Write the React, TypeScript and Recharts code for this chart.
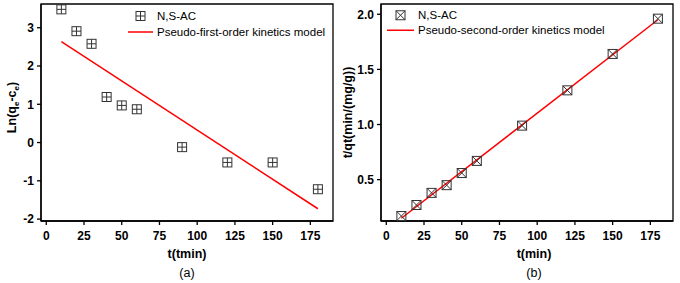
import React from 'react';
import { ComposedChart, Scatter, Line, XAxis, YAxis, ReferenceArea, Legend } from 'recharts';

// sampling times (min)
const TIMES = [10, 20, 30, 40, 50, 60, 90, 120, 150, 180];
// (a) ln(qe - qt) vs t
const LN_VALUES = [3.48, 2.91, 2.58, 1.19, 0.97, 0.87, -0.12, -0.52, -0.52, -1.22];
// (b) t/qt vs t
const TQT_VALUES = [0.17, 0.27, 0.38, 0.45, 0.56, 0.67, 0.99, 1.31, 1.64, 1.96];
// fitted lines, end points
const FIT_T = [10, 180];
const FIRST_FIT = [2.64, -1.73];
const SECOND_FIT = [0.15, 1.95];

const X_TICKS = [0, 25, 50, 75, 100, 125, 150, 175];
const FIRST_Y_TICKS = [-2, -1, 0, 1, 2, 3];
const SECOND_Y_TICKS = [0.5, 1.0, 1.5, 2.0];

const X_DOMAIN: [number, number] = [-3.5, 190];
const FIRST_Y_DOMAIN: [number, number] = [-2.05, 3.62];
const SECOND_Y_DOMAIN: [number, number] = [0.125, 2.093];

const FONT = '"Liberation Sans", Arial, sans-serif';
const MARK = '#333';

const points = (ys: number[]) => TIMES.map((t, i) => ({ t, y: ys[i] }));
const fit = (ys: number[]) => FIT_T.map((t, i) => ({ t, y: ys[i] }));

const PlusBox = ({ cx, cy }: any) => (
    <g stroke={MARK} strokeWidth={1} fill="none">
        <rect x={cx - 4.5} y={cy - 4.5} width={9} height={9} />
        <line x1={cx} y1={cy - 4.5} x2={cx} y2={cy + 4.5} />
        <line x1={cx - 4.5} y1={cy} x2={cx + 4.5} y2={cy} />
    </g>
);

const CrossBox = ({ cx, cy }: any) => (
    <g stroke={MARK} strokeWidth={1} fill="none">
        <rect x={cx - 4.5} y={cy - 4.5} width={9} height={9} />
        <line x1={cx - 4.5} y1={cy - 4.5} x2={cx + 4.5} y2={cy + 4.5} />
        <line x1={cx - 4.5} y1={cy + 4.5} x2={cx + 4.5} y2={cy - 4.5} />
    </g>
);

const legendContent = (Marker: any, lineLabel: string, lineX: number, lineW: number, rowH: number) => () => (
    <div style={{ fontFamily: FONT, fontSize: 11.5, color: '#000', lineHeight: `${rowH}px` }}>
        <div style={{ display: 'flex', alignItems: 'center' }}>
            <svg width={lineX + lineW + 4} height={rowH}>
                <Marker cx={lineX + lineW / 2} cy={rowH / 2} />
            </svg>
            <span>N,S-AC</span>
        </div>
        <div style={{ display: 'flex', alignItems: 'center' }}>
            <svg width={lineX + lineW + 4} height={rowH}>
                <line x1={lineX} y1={rowH / 2} x2={lineX + lineW} y2={rowH / 2} stroke="#ff0000" strokeWidth={1.5} />
            </svg>
            <span>{lineLabel}</span>
        </div>
    </div>
);

const xTitle = (title: string, sub: string, shift: number) => ({ viewBox }: any) => {
    const cx = viewBox.x + viewBox.width / 2 + shift;
    return (
        <g fontFamily={FONT} fill="#000">
            <text x={cx} y={viewBox.y + 37} textAnchor="middle" fontSize={12.5} fontWeight="bold">{title}</text>
            <text x={cx} y={viewBox.y + 56} textAnchor="middle" fontSize={12.5}>{sub}</text>
        </g>
    );
};

const FirstYTitle = ({ viewBox }: any) => {
    const x = 16;
    const y = viewBox.y + viewBox.height / 2 - 5;
    return (
        <text x={x} y={y} transform={`rotate(-90 ${x} ${y})`} textAnchor="middle" fontFamily={FONT}
            fontSize={12.5} fontWeight="bold" fill="#000">
            Ln(q<tspan fontSize={8} dy={3}>e</tspan><tspan dy={-3}>-c</tspan><tspan fontSize={8} dy={3}>e</tspan><tspan dy={-3}>)</tspan>
        </text>
    );
};

const SecondYTitle = ({ viewBox }: any) => {
    const x = 12;
    const y = viewBox.y + viewBox.height / 2;
    return (
        <text x={x} y={y} transform={`rotate(-90 ${x} ${y})`} textAnchor="middle" fontFamily={FONT}
            fontSize={12.5} fontWeight="bold" fill="#000">
            t/qt(min/(mg/g))
        </text>
    );
};

const tickStyle = { fontSize: 12, fontWeight: 'bold' as const, fill: '#000', fontFamily: FONT };

const Panel = ({ data, line, yDomain, yTicks, yFmt, Marker, lineLabel, lineX, lineW, legendLeft, legendTop, rowH, xLabel, sub, shift, YTitle }: any) => (
    <ComposedChart width={340} height={283} margin={{ top: 4, right: 7, bottom: 42, left: 1 }}>
        <XAxis dataKey="t" type="number" domain={X_DOMAIN} ticks={X_TICKS} allowDataOverflow
            height={20} tickSize={4} tickMargin={6} tick={tickStyle}
            axisLine={{ stroke: '#000', strokeWidth: 1.3 }} tickLine={{ stroke: '#000', strokeWidth: 1.3 }}
            label={xTitle(xLabel, sub, shift)} />
        <YAxis dataKey="y" type="number" domain={yDomain} ticks={yTicks} allowDataOverflow
            width={40} tickSize={4} tickMargin={3} tick={tickStyle} tickFormatter={yFmt}
            axisLine={{ stroke: '#000', strokeWidth: 1.3 }} tickLine={{ stroke: '#000', strokeWidth: 1.3 }}
            label={YTitle} />
        <ReferenceArea x1={X_DOMAIN[0]} x2={X_DOMAIN[1]} y1={yDomain[0]} y2={yDomain[1]}
            fill="none" fillOpacity={0} stroke="#000" strokeWidth={1.3} />
        <Line data={line} dataKey="y" type="linear" stroke="#ff0000" strokeWidth={1.5}
            dot={false} activeDot={false} isAnimationActive={false} />
        <Scatter data={data} dataKey="y" shape={Marker} isAnimationActive={false} />
        <Legend layout="vertical" align="center" verticalAlign="middle"
            wrapperStyle={{ left: legendLeft, top: legendTop, width: 260 }}
            content={legendContent(Marker, lineLabel, lineX, lineW, rowH)} />
    </ComposedChart>
);

export default function App() {
    return (
        <div style={{ position: 'absolute', left: 0, top: 0, width: 680, height: 283, display: 'flex', background: '#fff', fontFamily: FONT }}>
            <Panel data={points(LN_VALUES)} line={fit(FIRST_FIT)} yDomain={FIRST_Y_DOMAIN} yTicks={FIRST_Y_TICKS}
                yFmt={(v: number) => String(v)} Marker={PlusBox} lineLabel="Pseudo-first-order kinetics model"
                lineX={2} lineW={25} legendLeft={126} legendTop={8} rowH={16}
                xLabel="t(tmin)" sub="(a)" shift={0} YTitle={FirstYTitle} />
            <Panel data={points(TQT_VALUES)} line={fit(SECOND_FIT)} yDomain={SECOND_Y_DOMAIN} yTicks={SECOND_Y_TICKS}
                yFmt={(v: number) => v.toFixed(1)} Marker={CrossBox} lineLabel="Pseudo-second-order kinetics model"
                lineX={2} lineW={27} legendLeft={45} legendTop={8} rowH={14.5}
                xLabel="t(min)" sub="(b)" shift={7} YTitle={SecondYTitle} />
        </div>
    );
}
